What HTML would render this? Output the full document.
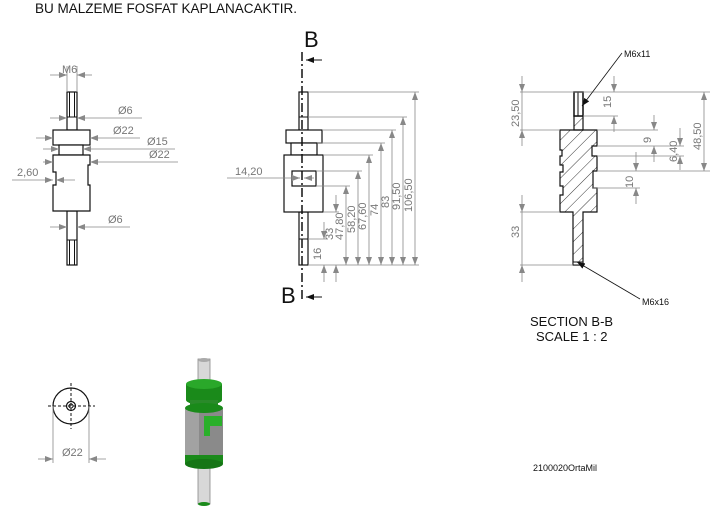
<!DOCTYPE html>
<html><head><meta charset="utf-8"><style>
html,body{margin:0;padding:0;background:#fff;}
svg{display:block;}
text{font-family:"Liberation Sans",sans-serif;}
.d{fill:#777;font-size:11px;}
.g{stroke:#888;stroke-width:0.8;fill:none;}
.k{stroke:#111;stroke-width:1.2;fill:#fff;}
</style></head><body>
<svg width="727" height="518" viewBox="0 0 727 518" xmlns="http://www.w3.org/2000/svg">
<defs>
<pattern id="h" width="9" height="9" patternUnits="userSpaceOnUse" patternTransform="rotate(45)"><line x1="0" y1="0" x2="0" y2="9" stroke="#222" stroke-width="0.9"/></pattern>
<marker id="a" markerWidth="8" markerHeight="6" refX="8" refY="3" orient="auto-start-reverse" markerUnits="userSpaceOnUse"><path d="M0,0 L8,3 L0,6z" fill="#888"/></marker>
<marker id="b" markerWidth="8" markerHeight="6" refX="8" refY="3" orient="auto" markerUnits="userSpaceOnUse"><path d="M0,0 L8,3 L0,6z" fill="#111"/></marker>
</defs>
<text x="35" y="13" font-size="13.5" fill="#111">BU MALZEME FOSFAT KAPLANACAKTIR.</text>

<!-- LEFT VIEW -->
<g>
<rect class="k" x="67" y="92" width="10" height="38"/>
<line x1="69.5" y1="92" x2="69.5" y2="117" stroke="#111"/><line x1="74.5" y1="92" x2="74.5" y2="117" stroke="#111"/>
<line x1="67" y1="117" x2="77" y2="117" stroke="#111"/>
<rect class="k" x="67" y="211" width="10" height="54"/>
<line x1="69.5" y1="240" x2="69.5" y2="265" stroke="#111"/><line x1="74.5" y1="240" x2="74.5" y2="265" stroke="#111"/>
<line x1="67" y1="240" x2="77" y2="240" stroke="#111"/>
<rect class="k" x="53" y="130" width="37" height="15"/>
<rect class="k" x="59" y="145" width="24" height="10"/>
<path class="k" d="M53,155 H90 V165 H88 V185 H90 V211 H53 V185 H56 V172 H53 Z"/>
<line class="g" x1="67" y1="66" x2="67" y2="92"/><line class="g" x1="77" y1="66" x2="77" y2="92"/>
<line class="g" x1="50" y1="75" x2="67" y2="75" marker-end="url(#a)"/><line class="g" x1="92" y1="75" x2="77" y2="75" marker-end="url(#a)"/>
<text class="d" x="62" y="73">M6</text>
<line class="g" x1="50" y1="118" x2="67" y2="118" marker-end="url(#a)"/><line class="g" x1="142" y1="118" x2="77" y2="118" marker-end="url(#a)"/>
<text class="d" x="118" y="114">Ø6</text>
<line class="g" x1="36" y1="138" x2="53" y2="138" marker-end="url(#a)"/><line class="g" x1="140" y1="138" x2="90" y2="138" marker-end="url(#a)"/>
<text class="d" x="113" y="134">Ø22</text>
<line class="g" x1="43" y1="149" x2="59" y2="149" marker-end="url(#a)"/><line class="g" x1="175" y1="149" x2="83" y2="149" marker-end="url(#a)"/>
<text class="d" x="147" y="145">Ø15</text>
<line class="g" x1="43" y1="162" x2="53" y2="162" marker-end="url(#a)"/><line class="g" x1="178" y1="162" x2="90" y2="162" marker-end="url(#a)"/>
<text class="d" x="149" y="158">Ø22</text>
<line class="g" x1="12" y1="180" x2="53" y2="180" marker-end="url(#a)"/><line class="g" x1="75" y1="180" x2="56" y2="180" marker-end="url(#a)"/>
<text class="d" x="17" y="176">2,60</text>
<line class="g" x1="50" y1="227" x2="67" y2="227" marker-end="url(#a)"/><line class="g" x1="130" y1="227" x2="77" y2="227" marker-end="url(#a)"/>
<text class="d" x="108" y="223">Ø6</text>
</g>

<!-- MIDDLE VIEW -->
<g>
<rect class="k" x="299" y="92" width="9" height="38"/>
<line x1="299" y1="117" x2="308" y2="117" stroke="#111"/>
<rect class="k" x="299" y="212" width="9" height="53"/>
<line x1="299" y1="239" x2="308" y2="239" stroke="#111"/>
<rect class="k" x="286" y="130" width="36" height="13"/>
<rect class="k" x="291" y="143" width="26" height="12"/>
<rect class="k" x="284" y="155" width="39" height="57"/>
<rect class="k" x="292" y="171" width="24" height="15"/>
<line x1="302" y1="52" x2="302" y2="302" stroke="#111" stroke-width="1.5" stroke-dasharray="9,3,2,3"/>
<text x="304" y="47" font-size="22" fill="#111">B</text>
<line x1="322" y1="60" x2="306" y2="60" stroke="#111" marker-end="url(#b)"/>
<text x="281" y="303" font-size="22" fill="#111">B</text>
<line x1="322" y1="297" x2="306" y2="297" stroke="#111" marker-end="url(#b)"/>
<line class="g" x1="227" y1="178" x2="300" y2="178"/>
<line class="g" x1="293" y1="178" x2="300" y2="178" marker-end="url(#a)"/><line class="g" x1="314" y1="178" x2="304" y2="178" marker-end="url(#a)"/>
<text class="d" x="235" y="175">14,20</text>
<g class="g">
<line x1="308" y1="92" x2="419" y2="92"/><line x1="308" y1="117" x2="407" y2="117"/>
<line x1="322" y1="130" x2="396" y2="130"/><line x1="317" y1="143" x2="385" y2="143"/>
<line x1="323" y1="155" x2="373" y2="155"/><line x1="316" y1="171" x2="362" y2="171"/>
<line x1="316" y1="186" x2="350" y2="186"/><line x1="323" y1="212" x2="339" y2="212"/>
<line x1="308" y1="239" x2="328" y2="239"/><line x1="308" y1="265" x2="419" y2="265"/>
</g>
<g class="g">
<line x1="415" y1="265" x2="415" y2="92" marker-start="url(#a)" marker-end="url(#a)"/>
<line x1="403" y1="265" x2="403" y2="117" marker-start="url(#a)" marker-end="url(#a)"/>
<line x1="392" y1="265" x2="392" y2="130" marker-start="url(#a)" marker-end="url(#a)"/>
<line x1="381" y1="265" x2="381" y2="143" marker-start="url(#a)" marker-end="url(#a)"/>
<line x1="369" y1="265" x2="369" y2="155" marker-start="url(#a)" marker-end="url(#a)"/>
<line x1="358" y1="265" x2="358" y2="171" marker-start="url(#a)" marker-end="url(#a)"/>
<line x1="346" y1="265" x2="346" y2="186" marker-start="url(#a)" marker-end="url(#a)"/>
<line x1="336" y1="195" x2="336" y2="212" marker-end="url(#a)"/><line x1="336" y1="282" x2="336" y2="265" marker-end="url(#a)"/>
<line x1="324" y1="222" x2="324" y2="239" marker-end="url(#a)"/><line x1="324" y1="282" x2="324" y2="265" marker-end="url(#a)"/>
</g>
<g class="d">
<text transform="translate(412,212) rotate(-90)">106,50</text>
<text transform="translate(400,210) rotate(-90)">91,50</text>
<text transform="translate(389,208) rotate(-90)">83</text>
<text transform="translate(378,216) rotate(-90)">74</text>
<text transform="translate(366,230) rotate(-90)">67,60</text>
<text transform="translate(355,233) rotate(-90)">58,20</text>
<text transform="translate(343,240) rotate(-90)">47,80</text>
<text transform="translate(333,240) rotate(-90)">33</text>
<text transform="translate(321,260) rotate(-90)">16</text>
</g>
</g>

<!-- SECTION VIEW -->
<g>
<path d="M560,130 H597 V146 H592 V156 H597 V171 H593 V188 H597 V212 H583 V265 H573 V212 H560 V195 H563 V186 H560 V172 H563 V165 H560 V156 H562 V150 H560 Z" fill="url(#h)" stroke="#111" stroke-width="1.2"/>
<rect x="574" y="116" width="9" height="14" fill="url(#h)" stroke="#111" stroke-width="1.2"/>
<rect x="574" y="92" width="9" height="24" fill="#fff" stroke="#111" stroke-width="1.5"/>
<line x1="578" y1="92" x2="578" y2="116" stroke="#111"/>
<rect x="573" y="262" width="10" height="3" fill="#fff" stroke="#111"/>
<g class="g">
<line x1="520" y1="92" x2="710" y2="92"/><line x1="520" y1="130" x2="560" y2="130"/>
<line x1="583" y1="116" x2="618" y2="116"/><line x1="597" y1="130" x2="658" y2="130"/>
<line x1="597" y1="146" x2="684" y2="146"/><line x1="597" y1="156" x2="684" y2="156"/>
<line x1="597" y1="171" x2="710" y2="171"/><line x1="593" y1="188" x2="640" y2="188"/>
<line x1="520" y1="212" x2="560" y2="212"/><line x1="520" y1="265" x2="573" y2="265"/>
<line x1="522" y1="76" x2="522" y2="92" marker-end="url(#a)"/><line x1="522" y1="146" x2="522" y2="130" marker-end="url(#a)"/><line x1="522" y1="92" x2="522" y2="130"/>
<line x1="614" y1="76" x2="614" y2="92" marker-end="url(#a)"/><line x1="614" y1="132" x2="614" y2="116" marker-end="url(#a)"/>
<line x1="654" y1="115" x2="654" y2="130" marker-end="url(#a)"/><line x1="654" y1="162" x2="654" y2="146" marker-end="url(#a)"/>
<line x1="680" y1="128" x2="680" y2="146" marker-end="url(#a)"/><line x1="680" y1="170" x2="680" y2="156" marker-end="url(#a)"/>
<line x1="704" y1="92" x2="704" y2="171" marker-start="url(#a)" marker-end="url(#a)"/>
<line x1="636" y1="152" x2="636" y2="171" marker-end="url(#a)"/><line x1="636" y1="204" x2="636" y2="188" marker-end="url(#a)"/>
<line x1="522" y1="195" x2="522" y2="212" marker-end="url(#a)"/><line x1="522" y1="282" x2="522" y2="265" marker-end="url(#a)"/><line x1="522" y1="212" x2="522" y2="265"/>
</g>
<g class="d">
<text transform="translate(519,127) rotate(-90)">23,50</text>
<text transform="translate(611,108) rotate(-90)">15</text>
<text transform="translate(651,143) rotate(-90)">9</text>
<text transform="translate(677,162) rotate(-90)">6,40</text>
<text transform="translate(701,150) rotate(-90)">48,50</text>
<text transform="translate(633,188) rotate(-90)">10</text>
<text transform="translate(519,238) rotate(-90)">33</text>
</g>
<line x1="622" y1="53" x2="582" y2="106" stroke="#111" stroke-width="0.8" marker-end="url(#b)"/>
<text x="624" y="57" font-size="9" fill="#111">M6x11</text>
<line x1="640" y1="299" x2="577" y2="262" stroke="#111" stroke-width="0.8" marker-end="url(#b)"/>
<text x="642" y="305" font-size="9" fill="#111">M6x16</text>
<text x="530" y="326" font-size="13" fill="#111">SECTION B-B</text>
<text x="536" y="341" font-size="13" fill="#111">SCALE 1 : 2</text>
</g>

<!-- END VIEW -->
<g>
<circle cx="71" cy="406" r="18" fill="none" stroke="#111" stroke-width="1.2"/>
<circle cx="71" cy="406" r="4.5" fill="none" stroke="#111" stroke-width="1.2"/>
<circle cx="71" cy="406" r="2" fill="none" stroke="#111"/>
<line x1="48" y1="406" x2="95" y2="406" stroke="#111" stroke-dasharray="3,2"/>
<line x1="71" y1="383" x2="71" y2="429" stroke="#111" stroke-dasharray="3,2"/>
<line class="g" x1="53" y1="406" x2="53" y2="463"/><line class="g" x1="89" y1="406" x2="89" y2="463"/>
<line class="g" x1="38" y1="459" x2="53" y2="459" marker-end="url(#a)"/><line class="g" x1="106" y1="459" x2="89" y2="459" marker-end="url(#a)"/>
<text class="d" x="62" y="456" font-size="12">Ø22</text>
</g>

<!-- 3D -->
<g>
<rect x="198" y="359" width="12" height="145" fill="#d8d8d8" stroke="#888" stroke-width="0.8"/>
<ellipse cx="204" cy="360" rx="6" ry="2" fill="#aaa"/>
<rect x="186" y="384" width="36" height="16" fill="#1a8a1a"/>
<ellipse cx="204" cy="384" rx="18" ry="5" fill="#2aa82a"/>
<ellipse cx="204" cy="400" rx="18" ry="5" fill="#1a8a1a"/>
<rect x="190" y="400" width="28" height="6" fill="#2a8a2a"/>
<rect x="185" y="408" width="38" height="50" fill="#8a8a8a"/>
<rect x="185" y="408" width="14" height="50" fill="#a2a2a2"/>
<ellipse cx="204" cy="408" rx="19" ry="5" fill="#1a8a1a"/>
<path d="M204,416 H222 V426 H210 V436 H204 Z" fill="#2ab02a"/>
<rect x="185" y="455" width="38" height="9" fill="#1a8a1a"/>
<ellipse cx="204" cy="464" rx="19" ry="5" fill="#157515"/>
<ellipse cx="204" cy="504" rx="6" ry="2" fill="#1a8a1a"/>
</g>

<text x="533" y="471" font-size="9" fill="#111">2100020OrtaMil</text>
</svg>
</body></html>
